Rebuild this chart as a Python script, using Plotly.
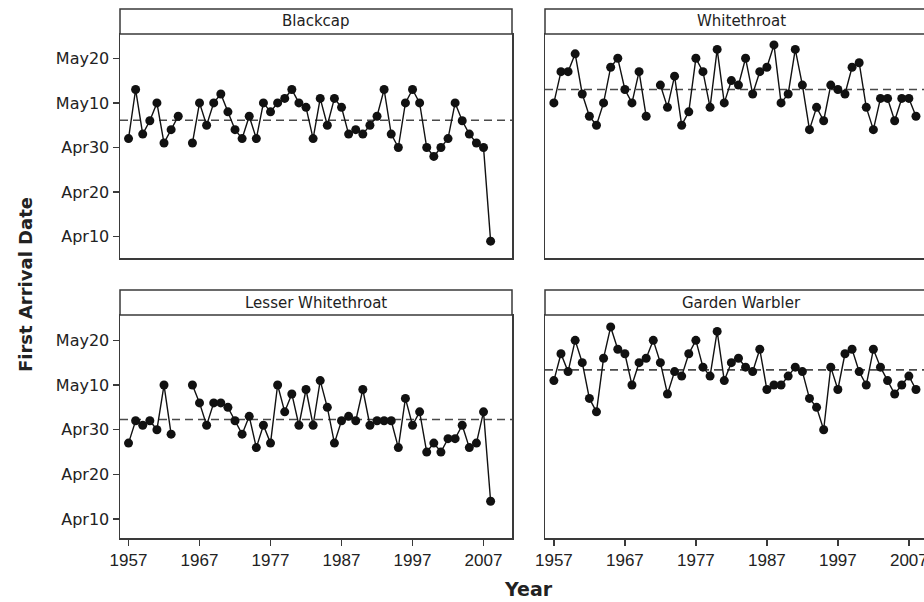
import plotly.graph_objects as go

# ---------------- data (first arrival date as day-of-year; Apr10 = 100) ----------------
years = list(range(1957, 2009))

blackcap = [122, 133, 123, 126, 130, 121, 124, 127, None,
            121, 130, 125, 130, 132, 128, 124, 122, 127, 122,
            130, 128, 130, 131, 133, 130, 129, 122, 131, 125,
            131, 129, 123, 124, 123, 125, 127, 133, 123, 120,
            130, 133, 130, 120, 118, 120, 122, 130, 126, 123, 121, 120, 99]

whitethroat = [130, 137, 137, 141, 132, 127, 125, 130, 138, 140, 133, 130, 137, 127, None,
               134, 129, 136, 125, 128, 140, 137, 129, 142, 130, 135, 134, 140, 132,
               137, 138, 143, 130, 132, 142, 134, 124, 129, 126, 134, 133, 132, 138,
               139, 129, 124, 131, 131, 126, 131, 131, 127]

lesser_whitethroat = [117, 122, 121, 122, 120, 130, 119, None, None,
                      130, 126, 121, 126, 126, 125, 122, 119, 123, 116,
                      121, 117, 130, 124, 128, 121, 129, 121, 131, 125,
                      117, 122, 123, 122, 129, 121, 122, 122, 122, 116,
                      127, 121, 124, 115, 117, 115, 118, 118, 121, 116, 117, 124, 104]

garden_warbler = [131, 137, 133, 140, 135, 127, 124, 136, 143, 138,
                  137, 130, 135, 136, 140, 135, 128, 133, 132, 137,
                  140, 134, 132, 142, 131, 135, 136, 134, 133, 138,
                  129, 130, 130, 132, 134, 133, 127, 125, 120, 134,
                  129, 137, 138, 133, 130, 138, 134, 131, 128, 130, 132, 129]

species = ["Blackcap", "Whitethroat", "Lesser Whitethroat", "Garden Warbler"]
series = [blackcap, whitethroat, lesser_whitethroat, garden_warbler]
reference_lines = [126.1, 133.0, 122.3, 133.4]   # dashed reference (mean) lines

y_tick_vals = [100, 110, 120, 130, 140]
y_tick_text = ["Apr10", "Apr20", "Apr30", "May10", "May20"]
x_tick_vals = [1957, 1967, 1977, 1987, 1997, 2007]
x_tick_text = ["1957", "1967", "1977", "1987", "1997", "2007"]

# ---------------- layout geometry (pixels of the 924x602 window) ----------------
W, H = 924, 602
def px(x):
    return x / W
def py(y):
    return (H - y) / H

col_px = [(120, 512), (545, 937)]
row_px = [(34, 258), (315, 538)]        # plot area top/bottom
strip_px = [(9, 34), (290, 315)]
y_ranges = [[95.22, 145.45], [95.77, 145.67]]
px_per_year = 7.1

AX = "#3a3a3a"
fig = go.Figure()
layout = dict(width=W, height=H, margin=dict(l=0, r=0, t=0, b=0, pad=0),
              autosize=False, plot_bgcolor="white", paper_bgcolor="white",
              showlegend=False, shapes=[], annotations=[])

for i, (name, vals, ref) in enumerate(zip(species, series, reference_lines)):
    r, c = divmod(i, 2)
    k = "" if i == 0 else str(i + 1)
    xa, ya = "x" + k, "y" + k
    x0p, x1p = col_px[c]
    x1clip = min(x1p, W)
    x_start = 1955.8 if c == 0 else 1955.75
    x_range = [x_start, x_start + (x1clip - x0p) / px_per_year]

    fig.add_trace(go.Scatter(
        x=years, y=vals, xaxis=xa, yaxis=ya, mode="lines+markers",
        line=dict(color="#111111", width=1.4),
        marker=dict(color="#111111", size=9),
        connectgaps=False, hoverinfo="skip", cliponaxis=False))

    bottom = (r == 1)
    layout["xaxis" + k] = dict(
        domain=[px(x0p), min(1.0, px(x1clip))], range=x_range, anchor=ya,
        automargin=False, ticklabeloverflow="allow",
        showgrid=False, zeroline=False, showline=True, linecolor=AX, linewidth=1.5,
        mirror=True,
        ticks="outside" if bottom else "", ticklen=6, tickwidth=1.5, tickcolor=AX,
        tickvals=x_tick_vals, ticktext=x_tick_text, showticklabels=bottom,
        tickfont=dict(family="Liberation Sans Narrow, Liberation Sans, Arial Narrow, sans-serif",
                      size=17, color="#222222"))
    rt, rb = row_px[r]
    layout["yaxis" + k] = dict(
        domain=[py(rb), py(rt)], range=y_ranges[r], anchor=xa,
        automargin=False,
        showgrid=False, zeroline=False, showline=True, linecolor=AX, linewidth=1.5,
        mirror=(c == 0),
        ticks="outside" if c == 0 else "", ticklen=6, tickwidth=1.5, tickcolor=AX,
        tickvals=y_tick_vals, ticktext=y_tick_text, showticklabels=(c == 0),
        tickfont=dict(family="DejaVu Sans", size=16, color="#222222"))

    # dashed reference line
    layout["shapes"].append(dict(
        type="line", xref=xa + " domain", x0=0, x1=1, yref=ya, y0=ref, y1=ref,
        line=dict(color="#4a4a4a", width=1.6, dash="8px,5px"), layer="below"))

    # strip box
    st, sb = strip_px[r]
    layout["shapes"].append(dict(
        type="rect", xref="paper", yref="paper",
        x0=px(x0p), x1=px(x1p), y0=py(sb), y1=py(st),
        line=dict(color=AX, width=1.5), fillcolor="white"))
    layout["annotations"].append(dict(
        text=name, xref="paper", yref="paper", x=px((x0p + x1p) / 2), y=py((st + sb) / 2),
        xanchor="center", yanchor="middle", showarrow=False,
        font=dict(family="DejaVu Sans", size=15, color="#222222")))

layout["annotations"].append(dict(
    text="<b>Year</b>", xref="paper", yref="paper", x=px(528), y=py(589),
    xanchor="center", yanchor="middle", showarrow=False,
    font=dict(family="DejaVu Sans", size=19, color="#222222")))
layout["annotations"].append(dict(
    text="<b>First Arrival Date</b>", xref="paper", yref="paper", x=px(25), y=py(285),
    xanchor="center", yanchor="middle", showarrow=False, textangle=-90,
    font=dict(family="DejaVu Sans", size=18, color="#222222")))

fig.update_layout(**layout)
fig.write_html(
    "out.html",
    config={"displayModeBar": False, "staticPlot": True},
    post_script="document.body.style.margin='0px';document.body.style.overflow='hidden';")
